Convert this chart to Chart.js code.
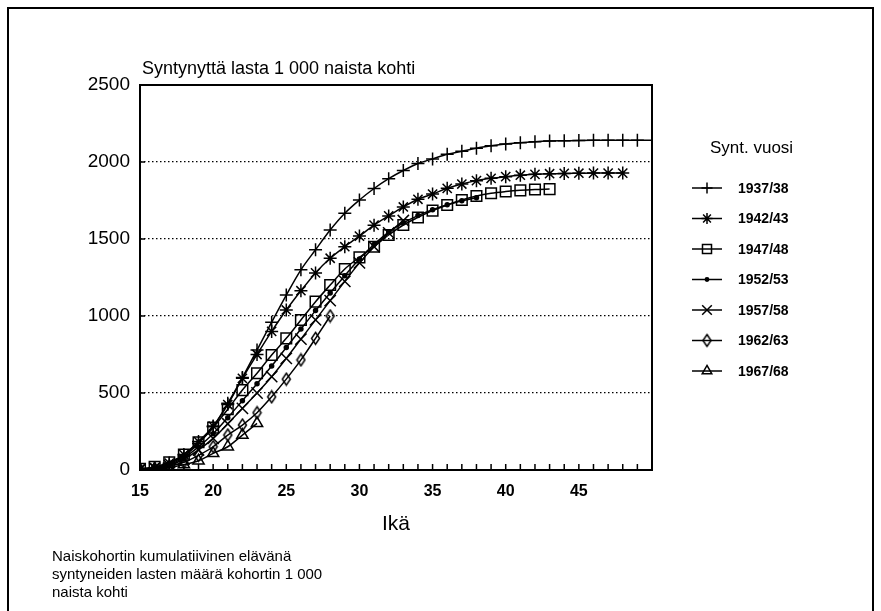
<!DOCTYPE html>
<html><head><meta charset="utf-8">
<script src="https://cdn.jsdelivr.net/npm/chart.js@4.4.1/dist/chart.umd.min.js"></script>
<style>html,body{margin:0;padding:0;background:#fff}canvas{display:block}</style>
</head><body>
<canvas id="c" width="881" height="611"></canvas>
<script>
// ---- data ----
const ages = [15,16,17,18,19,20,21,22,23,24,25,26,27,28,29,30,31,32,33,34,35,36,37,38,39,40,41,42,43,44,45,46,47,48,49,50];
const cohorts = ['1937/38','1942/43','1947/48','1952/53','1957/58','1962/63','1967/68'];
const c1937 = [5,15,40,91,173,281,433,600,779,960,1136,1300,1430,1558,1667,1753,1828,1892,1945,1990,2020,2050,2070,2090,2105,2117,2125,2132,2136,2138,2140,2141,2141,2142,2142,2142];
const c1942 = [5,15,45,100,185,285,425,595,750,900,1039,1164,1280,1375,1450,1519,1590,1650,1708,1758,1792,1829,1857,1879,1894,1905,1914,1920,1924,1926,1927,1928,1928,1928];
const c1947 = [8,20,50,100,180,275,395,519,628,747,855,974,1093,1201,1305,1381,1450,1526,1591,1640,1684,1721,1753,1779,1797,1808,1816,1821,1824];
const c1952 = [5,12,35,80,150,235,340,450,560,675,795,915,1035,1150,1262,1370,1465,1545,1605,1652,1690,1722,1748,1768];
const c1957 = [5,12,30,70,130,205,300,400,500,606,725,850,975,1100,1225,1345,1450,1540,1620];
const c1962 = [3,10,25,50,95,151,227,292,372,475,590,715,855,1000];
const c1967 = [2,6,15,35,60,108,151,227,303];
const yTickValues = [0,500,1000,1500,2000,2500];
const xTickLabels = [15,20,25,30,35,40,45];
const titleText = 'Syntynyttä lasta 1 000 naista kohti';
const xTitle = 'Ikä';
const legendTitle = 'Synt. vuosi';
const footnote = ['Naiskohortin kumulatiivinen elävänä','syntyneiden lasten määrä kohortin 1 000','naista kohti'];

const FONT = '"Liberation Sans", Arial, Helvetica, sans-serif';

function diamondImg(w,h,lw){
  const c=document.createElement('canvas'); c.width=w; c.height=h;
  const g=c.getContext('2d'); g.lineWidth=lw; g.strokeStyle='#000';
  g.beginPath(); g.moveTo(w/2,lw); g.lineTo(w-lw,h/2); g.lineTo(w/2,h-lw); g.lineTo(lw,h/2); g.closePath(); g.stroke();
  return c;
}
const diamond = diamondImg(11,15,1.5);

const series = [c1937,c1942,c1947,c1952,c1957,c1962,c1967];
const styles = [
  {pointStyle:'cross', pointRadius:6.5, fill:'transparent'},
  {pointStyle:'star', pointRadius:6.5, fill:'transparent'},
  {pointStyle:'rect', pointRadius:7.5, fill:'transparent'},
  {pointStyle:'circle', pointRadius:2, fill:'#000'},
  {pointStyle:'crossRot', pointRadius:8, fill:'transparent'},
  {pointStyle:diamond, pointRadius:6, fill:'transparent'},
  {pointStyle:'triangle', pointRadius:6.5, fill:'transparent'}
];

const datasets = series.map((vals,i)=>({
  label: cohorts[i],
  data: vals.map((v,j)=>({x:ages[j], y:v})),
  borderColor:'#000', borderWidth:1.5,
  pointStyle: styles[i].pointStyle,
  pointRadius: (ctx)=> (i===0 && ctx.dataIndex===35) ? 0 : styles[i].pointRadius,
  pointBorderColor:'#000', pointBackgroundColor: styles[i].fill,
  pointBorderWidth:1.5,
  cubicInterpolationMode:'monotone', fill:false
}));

const decor = {
  id:'decor',
  afterDraw(chart){
    const ctx=chart.ctx, a=chart.chartArea, xs=chart.scales.x, ys=chart.scales.y;
    ctx.save();
    // outer frame
    ctx.strokeStyle='#000'; ctx.lineWidth=2;
    ctx.strokeRect(8,8,865,640);
    // plot box
    ctx.strokeRect(a.left,a.top,a.right-a.left,a.bottom-a.top);
    // inward ticks
    ctx.lineWidth=1.5;
    ctx.beginPath();
    for(const v of ages){ if(v>=50) continue; const px=xs.getPixelForValue(v); ctx.moveTo(px,a.bottom); ctx.lineTo(px,a.bottom-6); }
    for(const v of yTickValues){ if(v===0||v===2500) continue; const py=ys.getPixelForValue(v); ctx.moveTo(a.left,py); ctx.lineTo(a.left+5,py); }
    ctx.stroke();
    // title
    ctx.fillStyle='#000';
    ctx.font='18px '+FONT; ctx.textBaseline='alphabetic'; ctx.textAlign='left';
    ctx.fillText(titleText, 142, 74);
    // legend
    ctx.font='17px '+FONT;
    ctx.fillText(legendTitle, 710, 153);
    ctx.font='bold 14px '+FONT; ctx.textBaseline='middle';
    chart.data.datasets.forEach((ds,i)=>{
      const y=188+i*30.5;
      ctx.strokeStyle='#000'; ctx.lineWidth=1.5;
      ctx.beginPath(); ctx.moveTo(692,y); ctx.lineTo(722,y); ctx.stroke();
      ctx.fillStyle=styles[i].fill; ctx.strokeStyle='#000'; ctx.lineWidth=1.5;
      Chart.helpers.drawPoint(ctx,{pointStyle:ds.pointStyle, radius:styles[i].pointRadius*0.85, borderWidth:1.5, rotation:0},707,y);
      ctx.fillStyle='#000';
      ctx.fillText(ds.label, 738, y+1);
    });
    // footnote
    ctx.font='15px '+FONT;
    footnote.forEach((t,i)=>ctx.fillText(t, 52, 557+i*18));
    ctx.restore();
  }
};

new Chart(document.getElementById('c'),{
  type:'line',
  data:{datasets},
  options:{
    responsive:false, animation:false, devicePixelRatio:1,
    layout:{padding:{left:80, right:229, top:85, bottom:0}},
    plugins:{legend:{display:false}, title:{display:false}, tooltip:{enabled:false}},
    scales:{
      x:{type:'linear', min:15, max:50,
        afterFit:(s)=>{s.height=141;},
        grid:{display:false, drawTicks:false},
        border:{display:false},
        ticks:{stepSize:5, autoSkip:false, padding:12, color:'#000',
          font:{family:FONT, size:16, weight:'bold'},
          callback:(v)=> xTickLabels.includes(v) ? String(v) : ''},
        title:{display:true, text:xTitle, color:'#000', font:{family:FONT, size:21}, padding:{top:0,bottom:74}}
      },
      y:{type:'linear', min:0, max:2500,
        afterFit:(s)=>{s.width=60;},
        afterBuildTicks:(s)=>{s.ticks=yTickValues.map(v=>({value:v}));},
        grid:{drawTicks:false, lineWidth:1.2,
          color:(c)=> (c.tick && c.tick.value>0 && c.tick.value<2500) ? '#000' : 'rgba(0,0,0,0)'},
        border:{display:false, dash:[1.5,2.5]},
        ticks:{padding:10, color:'#000', font:{family:FONT, size:19},
          callback:(v)=>String(v)}
      }
    }
  },
  plugins:[decor]
});
</script>
</body></html>
